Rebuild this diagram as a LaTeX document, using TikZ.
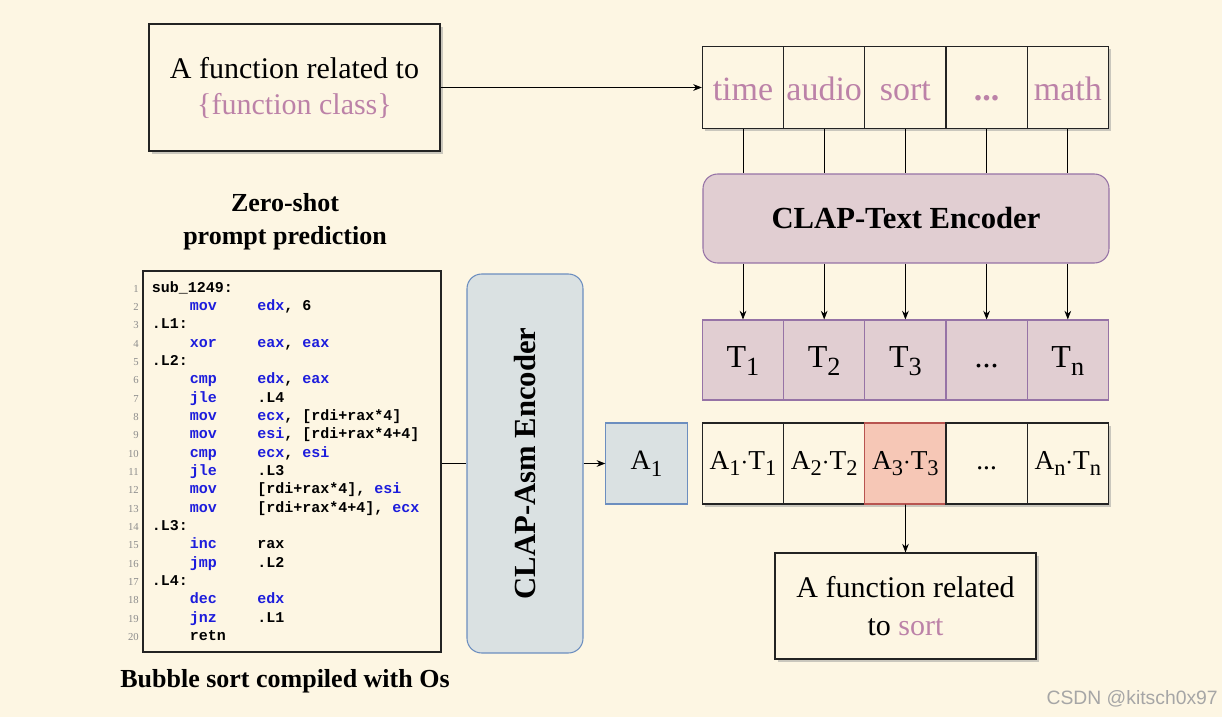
\documentclass[tikz,border=0pt]{standalone}
\usepackage{fontspec}
\usepackage{graphicx}
\setmainfont{Liberation Serif}
\setmonofont{Liberation Mono}
\newfontfamily\wmfont{Liberation Sans}
\usetikzlibrary{arrows.meta,shadows}

\definecolor{bgc}{RGB}{253,246,227}
\definecolor{pinkt}{RGB}{188,130,168}
\definecolor{purpfill}{RGB}{225,206,210}
\definecolor{purpline}{RGB}{150,115,166}
\definecolor{bluefill}{RGB}{218,225,226}
\definecolor{blueline}{RGB}{108,142,191}
\definecolor{redfill}{RGB}{246,199,182}
\definecolor{redline}{RGB}{184,84,80}
\definecolor{kwc}{RGB}{28,28,220}
\definecolor{boxline}{RGB}{35,35,35}

\newcommand{\kw}[1]{\textcolor{kwc}{#1}}
\newcommand{\sbs}[1]{\raisebox{-0.24em}{\scalebox{0.82}{#1}}}
\newcommand{\codeline}[4]{%
  \node[lnum] (n#1) at (139,{292+(#1-1)*18.35}) {#1};
  \node[code] (l#1) at (151.5,{292+(#1-1)*18.35}) {#2};
  \node[code] (m#1) at (189.5,{292+(#1-1)*18.35}) {#3};
  \node[code] (o#1) at (257,{292+(#1-1)*18.35}) {#4};
}

\tikzset{
  shad/.style={drop shadow={shadow xshift=2pt,shadow yshift=-2pt,fill=black!40,opacity=0.5}},
  creambox/.style={draw=boxline,fill=bgc,line width=0.8pt,inner sep=0pt,align=center},
  topcell/.style={creambox,shad,minimum width=60.9pt,minimum height=61.1pt,
     text height=21pt,text depth=1.2pt,
     font=\fontsize{25.5}{28}\selectfont,text=pinkt},
  tcell/.style={draw=purpline,fill=purpfill,line width=0.8pt,inner sep=0pt,
     text height=17pt,text depth=6pt,
     minimum width=60.9pt,minimum height=60pt,font=\fontsize{24}{28}\selectfont},
  atcell/.style={creambox,shad,minimum width=60.9pt,minimum height=60.75pt,
     text height=15pt,text depth=6.3pt,
     font=\fontsize{20.5}{24}\selectfont},
  arr/.style={-{Stealth[length=6.5pt,width=5pt]},line width=0.6pt},
  conn/.style={line width=0.6pt},
  code/.style={anchor=base west,inner sep=0pt,
     font=\ttfamily\bfseries\fontsize{11.25}{13}\selectfont},
  lnum/.style={anchor=base east,inner sep=0pt,text=black!45,
     font=\fontsize{8}{9}\selectfont},
  caption/.style={inner sep=0pt,align=center,font=\bfseries\fontsize{19.5}{24.75}\selectfont}
}

\begin{document}
\begin{tikzpicture}[x=0.75pt,y=-0.75pt]
\useasboundingbox (0,0) rectangle (1222,717);
\fill[bgc] (0,0) rectangle (1222,717);

% top-left prompt box
\node[creambox,shad,minimum width=218.25pt,minimum height=95.25pt,
  font=\fontsize{22.5}{27}\selectfont] (prompt) at (294.5,87.5)
  {A function related to\\\textcolor{pinkt}{\{function class\}}};

% top row of classes
\node[topcell] (c1) at (743,87.5) {time};
\node[topcell] (c2) at (824.2,87.5) {audio};
\node[topcell] (c3) at (905.4,87.5) {sort};
\node[topcell,font=\bfseries\fontsize{25.5}{28}\selectfont] (c4) at (986.6,87.5) {...};
\node[topcell] (c5) at (1067.8,87.5) {math};

\draw[arr] (prompt.east) -- (c1.west);

% text encoder
\node[draw=purpline,fill=purpfill,line width=0.8pt,rounded corners=11pt,
  minimum width=304.5pt,minimum height=66.75pt,
  font=\bfseries\fontsize{23}{27}\selectfont] (tenc) at (906,218.5) {CLAP-Text Encoder};

\foreach \k in {1,...,5}{
  \draw[conn] (c\k.south) -- (c\k.south |- tenc.north);
}

% T row
\node[tcell] (t1) at (743,360) {T\sbs{1}};
\node[tcell] (t2) at (824.2,360) {T\sbs{2}};
\node[tcell] (t3) at (905.4,360) {T\sbs{3}};
\node[tcell] (t4) at (986.6,360) {...};
\node[tcell] (t5) at (1067.8,360) {T\sbs{n}};

\foreach \k in {1,...,5}{
  \draw[arr] (t\k.north |- tenc.south) -- (t\k.north);
}

% A.T row
\node[atcell] (a1t) at (743,463.5) {A\sbs{1}$\cdot$T\sbs{1}};
\node[atcell] (a2t) at (824.2,463.5) {A\sbs{2}$\cdot$T\sbs{2}};
\node[atcell,draw=redline,fill=redfill] (a3t) at (905.4,463.5) {A\sbs{3}$\cdot$T\sbs{3}};
\node[atcell] (a4t) at (986.6,463.5) {...};
\node[atcell] (a5t) at (1067.8,463.5) {A\sbs{n}$\cdot$T\sbs{n}};

% result box
\node[creambox,shad,minimum width=195.75pt,minimum height=79.5pt,
  font=\fontsize{22.5}{28.5}\selectfont] (res) at (905.5,606)
  {A function related\\to \textcolor{pinkt}{sort}};
\draw[arr] (a3t.south) -- (res.north);

% asm encoder
\node[draw=blueline,fill=bluefill,line width=0.8pt,rounded corners=11pt,
  minimum width=87pt,minimum height=284.25pt] (asm) at (525,463.5) {};
\node[rotate=90,inner sep=0pt,font=\bfseries\fontsize{23}{27}\selectfont] (asmt) at (asm.center) {CLAP-Asm Encoder};

% A1
\node[draw=blueline,fill=bluefill,line width=0.8pt,minimum width=61pt,minimum height=60.75pt,
  inner sep=0pt,font=\fontsize{21}{24}\selectfont] (A1) at (646.5,463.5) {A\sbs{1}};
\draw[arr] (asm.east) -- (A1.west);

% code box
\node[draw=boxline,fill=bgc,line width=0.8pt,minimum width=223.5pt,minimum height=285.75pt] (code) at (292,461.5) {};
\draw[conn] (code.east |- asm.west) -- (asm.west);

\codeline{1}{sub\_1249:}{}{}
\codeline{2}{}{\kw{mov}}{\kw{edx}, 6}
\codeline{3}{.L1:}{}{}
\codeline{4}{}{\kw{xor}}{\kw{eax}, \kw{eax}}
\codeline{5}{.L2:}{}{}
\codeline{6}{}{\kw{cmp}}{\kw{edx}, \kw{eax}}
\codeline{7}{}{\kw{jle}}{.L4}
\codeline{8}{}{\kw{mov}}{\kw{ecx}, [rdi+rax*4]}
\codeline{9}{}{\kw{mov}}{\kw{esi}, [rdi+rax*4+4]}
\codeline{10}{}{\kw{cmp}}{\kw{ecx}, \kw{esi}}
\codeline{11}{}{\kw{jle}}{.L3}
\codeline{12}{}{\kw{mov}}{[rdi+rax*4], \kw{esi}}
\codeline{13}{}{\kw{mov}}{[rdi+rax*4+4], \kw{ecx}}
\codeline{14}{.L3:}{}{}
\codeline{15}{}{\kw{inc}}{rax}
\codeline{16}{}{\kw{jmp}}{.L2}
\codeline{17}{.L4:}{}{}
\codeline{18}{}{\kw{dec}}{\kw{edx}}
\codeline{19}{}{\kw{jnz}}{.L1}
\codeline{20}{}{retn}{}

% captions
\node[caption] (zs) at (285,221.5) {Zero-shot\\prompt prediction};
\node[caption] (bs) at (285,681) {Bubble sort compiled with Os};

% watermark
\node[anchor=base east,inner sep=0pt,text=black!35,font=\wmfont\fontsize{14.5}{16}\selectfont] (wm) at (1218,704) {CSDN @kitsch0x97};
\end{tikzpicture}
\end{document}
